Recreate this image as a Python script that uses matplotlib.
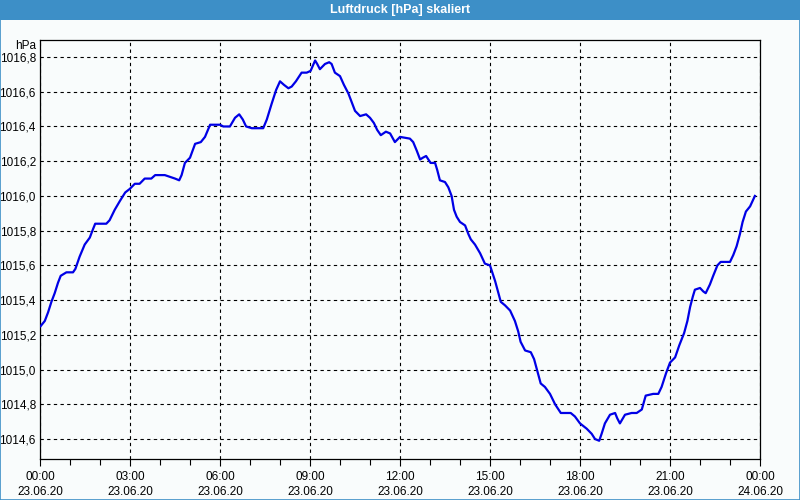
"""Luftdruck-Tagesverlauf (skaliert) als Liniendiagramm."""

import matplotlib

matplotlib.use("Agg")

import matplotlib.pyplot as plt
from matplotlib.patches import Rectangle
from matplotlib.ticker import FixedLocator, MultipleLocator

# Stunden seit 23.06.20 00:00 und Luftdruck in hPa
hours = [
    0.02, 0.16, 0.27, 0.38, 0.49, 0.60, 0.69, 0.88, 1.10, 1.18, 1.32, 1.49, 1.66, 1.77, 1.84,
    2.21, 2.32, 2.49, 2.66, 2.84, 2.99, 3.16, 3.32, 3.49, 3.71, 3.84, 4.16, 4.33, 4.50, 4.64,
    4.72, 4.83, 5.00, 5.17, 5.36, 5.50, 5.67, 6.00, 6.11, 6.33, 6.50, 6.64, 6.76, 6.87, 7.06,
    7.44, 7.56, 7.72, 7.87, 8.00, 8.13, 8.28, 8.39, 8.53, 8.72, 8.89, 9.02, 9.17, 9.24, 9.33,
    9.50, 9.64, 9.72, 9.83, 10.00, 10.13, 10.28, 10.39, 10.50, 10.67, 10.87, 11.00, 11.13,
    11.24, 11.36, 11.53, 11.67, 11.83, 12.00, 12.33, 12.44, 12.56, 12.67, 12.76, 12.87, 13.02,
    13.17, 13.24, 13.33, 13.50, 13.61, 13.72, 13.80, 13.89, 14.00, 14.17, 14.28, 14.36, 14.50,
    14.67, 14.83, 15.00, 15.17, 15.28, 15.36, 15.50, 15.67, 15.83, 15.94, 16.02, 16.17, 16.36,
    16.47, 16.58, 16.69, 16.83, 17.00, 17.17, 17.36, 17.53, 17.69, 17.83, 18.00, 18.22, 18.39,
    18.50, 18.64, 18.72, 18.83, 19.00, 19.17, 19.24, 19.33, 19.50, 19.72, 19.89, 20.06, 20.19,
    20.44, 20.61, 20.72, 20.87, 21.00, 21.17, 21.31, 21.47, 21.58, 21.67, 21.76, 21.83, 22.00,
    22.11, 22.19, 22.33, 22.44, 22.58, 22.69, 23.00, 23.11, 23.22, 23.33, 23.42, 23.53, 23.67,
    23.83,
]
pressure = [
    1015.25, 1015.28, 1015.33, 1015.39, 1015.44, 1015.50, 1015.54, 1015.56, 1015.56, 1015.58,
    1015.65, 1015.72, 1015.76, 1015.81, 1015.84, 1015.84, 1015.86, 1015.92, 1015.97, 1016.02,
    1016.04, 1016.07, 1016.07, 1016.10, 1016.10, 1016.12, 1016.12, 1016.11, 1016.10, 1016.09,
    1016.12, 1016.19, 1016.22, 1016.30, 1016.31, 1016.34, 1016.41, 1016.41, 1016.40, 1016.40,
    1016.45, 1016.47, 1016.44, 1016.40, 1016.39, 1016.39, 1016.44, 1016.53, 1016.61, 1016.66,
    1016.64, 1016.62, 1016.63, 1016.66, 1016.71, 1016.71, 1016.72, 1016.78, 1016.76, 1016.73,
    1016.76, 1016.77, 1016.76, 1016.71, 1016.69, 1016.64, 1016.59, 1016.54, 1016.49, 1016.46,
    1016.47, 1016.45, 1016.42, 1016.38, 1016.35, 1016.37, 1016.36, 1016.31, 1016.34, 1016.33,
    1016.31, 1016.26, 1016.21, 1016.22, 1016.23, 1016.19, 1016.19, 1016.15, 1016.09, 1016.08,
    1016.05, 1016.00, 1015.92, 1015.88, 1015.85, 1015.83, 1015.78, 1015.75, 1015.72, 1015.67,
    1015.61, 1015.60, 1015.51, 1015.44, 1015.39, 1015.37, 1015.34, 1015.28, 1015.22, 1015.16,
    1015.11, 1015.10, 1015.06, 1014.99, 1014.92, 1014.90, 1014.86, 1014.80, 1014.75, 1014.75,
    1014.75, 1014.73, 1014.69, 1014.66, 1014.63, 1014.60, 1014.59, 1014.63, 1014.69, 1014.74,
    1014.75, 1014.72, 1014.69, 1014.74, 1014.75, 1014.75, 1014.77, 1014.85, 1014.86, 1014.86,
    1014.90, 1014.98, 1015.04, 1015.07, 1015.14, 1015.21, 1015.28, 1015.36, 1015.42, 1015.46,
    1015.47, 1015.45, 1015.44, 1015.49, 1015.54, 1015.60, 1015.62, 1015.62, 1015.66, 1015.71,
    1015.78, 1015.85, 1015.91, 1015.94, 1016.00,
]

x_ticks = [0, 3, 6, 9, 12, 15, 18, 21, 24]
x_tick_labels = [
    "00:00\n23.06.20", "03:00\n23.06.20", "06:00\n23.06.20", "09:00\n23.06.20",
    "12:00\n23.06.20", "15:00\n23.06.20", "18:00\n23.06.20", "21:00\n23.06.20",
    "00:00\n24.06.20",
]
y_ticks = [1014.6, 1014.8, 1015.0, 1015.2, 1015.4, 1015.6, 1015.8, 1016.0, 1016.2, 1016.4,
           1016.6, 1016.8]
y_tick_labels = [f"{v:.1f}".replace(".", ",") for v in y_ticks]

BG = "#f9fcfc"
BAR = "#3d8fc7"

plt.rcParams["font.family"] = ["Liberation Sans", "DejaVu Sans"]

fig = plt.figure(figsize=(8, 5), dpi=100, facecolor=BG)
ax = fig.add_axes([0.05, 0.082, 0.90, 0.838])
ax.set_facecolor(BG)

# Titelleiste und Rahmen
fig.patches.append(Rectangle((0, 0.96), 1, 0.04, transform=fig.transFigure,
                             facecolor=BAR, edgecolor="none", zorder=0))
fig.patches.append(Rectangle((0.0006, 0.001), 0.9988, 0.998, transform=fig.transFigure,
                             facecolor="none", edgecolor=BAR, linewidth=1.2, zorder=5))
fig.text(0.5, 0.979, "Luftdruck [hPa] skaliert", ha="center", va="center",
         color="white", fontsize=9, fontweight="bold")

ax.plot(hours, pressure, color="#0000e6", linewidth=1.6, zorder=3)

ax.set_xlim(0, 24)
ax.set_ylim(1014.485, 1016.898)
ax.xaxis.set_major_locator(FixedLocator(x_ticks))
ax.xaxis.set_minor_locator(MultipleLocator(1))
ax.set_xticklabels(x_tick_labels, fontsize=8.5, linespacing=1.3)
ax.set_yticks(y_ticks)
ax.set_yticklabels(y_tick_labels, fontsize=8.5)

ax.tick_params(axis="x", which="major", length=5, width=0.8, pad=4)
ax.tick_params(axis="x", which="minor", length=4, width=0.8)
ax.tick_params(axis="y", length=0, pad=3)

ax.grid(True, which="major", color="black", linestyle=(0, (3, 3)), linewidth=0.8)
for spine in ax.spines.values():
    spine.set_linewidth(0.9)

ax.text(-0.005, 1.0, "hPa", transform=ax.transAxes, ha="right", va="top", fontsize=8.5)

fig.savefig("out.png", dpi=100, facecolor=BG)
plt.close(fig)
